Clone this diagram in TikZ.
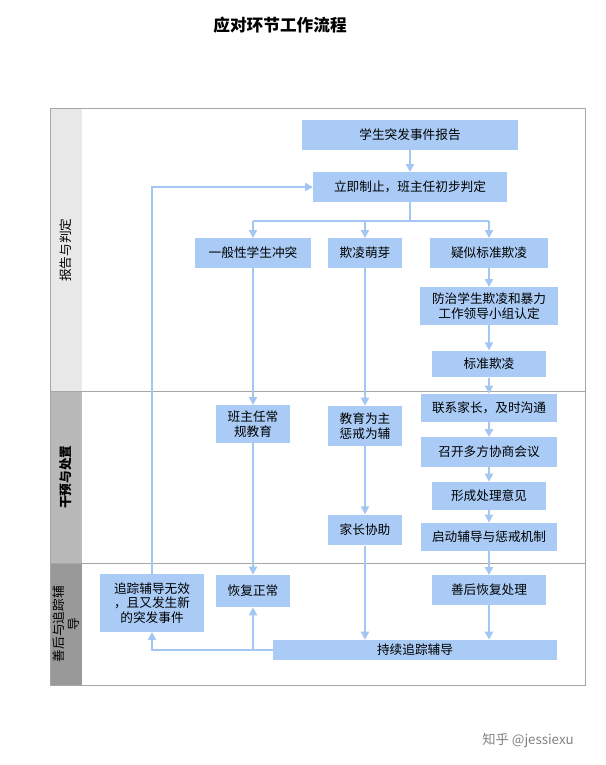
\documentclass[tikz,border=0pt]{standalone}
\usepackage{fontspec}
\setmainfont{Noto Sans CJK SC}
\usepackage{tikz}
\usetikzlibrary{positioning, arrows.meta}
\definecolor{boxblue}{HTML}{A9CBF5}
\definecolor{lineblue}{HTML}{A4C6F2}
\begin{document}
\begin{tikzpicture}[x=0.75pt, y=-0.75pt,
  step node/.style={fill=boxblue,inner sep=1pt,font=\fontsize{9.5}{11}\selectfont,align=center},
  flow/.style={draw=lineblue,line width=1.6pt,-{Triangle[length=6pt,width=6pt]}},
  lane/.style={draw=gray!70,line width=0.6pt}]

\useasboundingbox (0,0) rectangle (606,765);
\node[font=\fontsize{12.5}{14}\selectfont\bfseries] (title) at (280,25) {应对环节工作流程};

% lanes
\fill[gray!18] (50,108) rectangle (82,391);
\fill[gray!55] (50,391) rectangle (82,563);
\fill[gray!80] (50,563) rectangle (82,685);
\draw[lane] (50,108) rectangle (585,685);
\draw[lane] (50,391) -- (585,391);
\draw[lane] (50,563) -- (585,563);
\node[rotate=90,font=\fontsize{9.5}{11}\selectfont] (laneA) at (66,250) {报告与判定};
\node[rotate=90,font=\fontsize{9.5}{11}\selectfont\bfseries] (laneB) at (66,477) {干预与处置};
\node[rotate=90,font=\fontsize{9.5}{11}\selectfont,align=center] (laneC) at (66,624) {善后与追踪辅\\导};

% boxes
\node[step node,minimum width=162pt,minimum height=22pt] (report) at (410,135) {学生突发事件报告};
\node[step node,minimum width=145pt,minimum height=22pt] (stop) at (410,187) {立即制止，班主任初步判定};
\node[step node,minimum width=87pt,minimum height=22pt] (general) at (253,253) {一般性学生冲突};
\node[step node,minimum width=55pt,minimum height=22pt] (bud) at (365,253) {欺凌萌芽};
\node[step node,minimum width=88pt,minimum height=22pt] (suspect) at (489,253) {疑似标准欺凌};
\node[step node,minimum width=104pt,minimum height=28pt] (group) at (489,306) {防治学生欺凌和暴力\\工作领导小组认定};
\node[step node,minimum width=86pt,minimum height=20pt] (standard) at (489,364) {标准欺凌};
\node[step node,minimum width=55pt,minimum height=28pt] (teacher) at (253,424) {班主任常\\规教育};
\node[step node,minimum width=55pt,minimum height=30pt] (educate) at (365,426) {教育为主\\惩戒为辅};
\node[step node,minimum width=55pt,minimum height=23pt] (parent) at (365,530) {家长协助};
\node[step node,minimum width=102pt,minimum height=21pt] (contact) at (489,408) {联系家长，及时沟通};
\node[step node,minimum width=102pt,minimum height=22pt] (meeting) at (489,452) {召开多方协商会议};
\node[step node,minimum width=86pt,minimum height=21pt] (opinion) at (489,496) {形成处理意见};
\node[step node,minimum width=102pt,minimum height=21pt] (start) at (489,537) {启动辅导与惩戒机制};
\node[step node,minimum width=78pt,minimum height=43pt] (fail) at (152,603) {追踪辅导无效\\，且又发生新\\的突发事件};
\node[step node,minimum width=55pt,minimum height=24pt] (normal) at (253,591) {恢复正常};
\node[step node,minimum width=86pt,minimum height=22pt] (after) at (489,590) {善后恢复处理};
\node[step node,minimum width=213pt,minimum height=15pt] (track) at (415,650) {持续追踪辅导};
\node[text=gray,font=\fontsize{10}{12}\selectfont] (mark) at (528,740) {知乎 @jessiexu};

\coordinate (split) at (410,221);
\coordinate (loopTop) at (152,187);
\coordinate (loopBot) at (152,650);
\coordinate (branch) at (253,650);

% connectors
\draw[flow] (report) -- (stop);
\draw[draw=lineblue,line width=1.6pt] (stop) -- (split);
\draw[draw=lineblue,line width=1.6pt] (253,221) -- (489,221);
\draw[flow] (253,221) -- (general);
\draw[flow] (365,221) -- (bud);
\draw[flow] (489,221) -- (suspect);
\draw[flow] (suspect) -- (group);
\draw[flow] (group) -- (standard);
\draw[flow] (standard) -- (contact);
\draw[flow] (contact) -- (meeting);
\draw[flow] (meeting) -- (opinion);
\draw[flow] (opinion) -- (start);
\draw[flow] (start) -- (after);
\draw[flow] (after) -- (after.south |- track.north);
\draw[flow] (general) -- (teacher);
\draw[flow] (teacher) -- (normal);
\draw[flow] (bud) -- (educate);
\draw[flow] (educate) -- (parent);
\draw[flow] (parent) -- (parent.south |- track.north);
\draw[flow] (track.west) -- (loopBot) -- (fail.south);
\draw[flow] (branch) -- (normal);
\draw[flow] (fail.north) -- (loopTop) -- (stop.west);
\end{tikzpicture}
\end{document}
